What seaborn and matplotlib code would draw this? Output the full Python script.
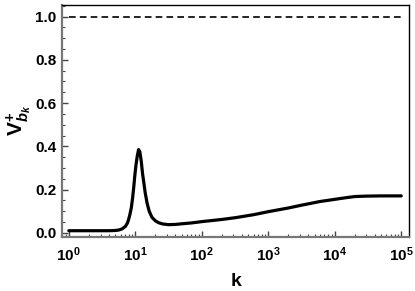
import matplotlib.pyplot as plt
import matplotlib.ticker as mticker
import numpy as np
import pandas as pd
import seaborn as sns

# values
k_vals = [1, 2, 3, 4, 5, 5.6, 6.3, 7.1, 7.6, 7.9, 8.3, 8.7, 9.1, 9.5, 9.8,
          10.2, 10.7, 11.2, 11.7, 12.3, 12.9, 13.2, 14.1, 15.1, 16.2, 17.8,
          20, 22.4, 26, 31.6, 40, 50, 70, 100, 200, 316, 600, 1000, 2000,
          3162, 6000, 10000, 15000, 20000, 30000, 50000, 100000]
v_vals = [0.010, 0.010, 0.010, 0.010, 0.011, 0.013, 0.018, 0.030, 0.045, 0.060,
          0.085, 0.115, 0.160, 0.215, 0.260, 0.310, 0.355, 0.385, 0.375, 0.330,
          0.270, 0.250, 0.185, 0.135, 0.100, 0.072, 0.056, 0.047, 0.041, 0.038,
          0.039, 0.042, 0.046, 0.052, 0.062, 0.070, 0.084, 0.098, 0.115,
          0.128, 0.145, 0.155, 0.163, 0.168, 0.170, 0.171, 0.171]
ref_level = 1.0

df = pd.DataFrame({"k": k_vals, "v": v_vals})

sns.set_theme(style="ticks")
plt.rcParams["font.family"] = ["Liberation Sans", "DejaVu Sans"]
plt.rcParams["font.weight"] = "bold"
plt.rcParams["text.color"] = "black"
plt.rcParams["axes.labelcolor"] = "black"
plt.rcParams["xtick.color"] = "black"
plt.rcParams["ytick.color"] = "black"
plt.rcParams["mathtext.fontset"] = "custom"
plt.rcParams["mathtext.rm"] = "Liberation Sans:bold"
plt.rcParams["mathtext.it"] = "Liberation Sans:bold:italic"
plt.rcParams["mathtext.bf"] = "Liberation Sans:bold"

fig = plt.figure(figsize=(4.15, 2.91), dpi=100)
ax = fig.add_axes([0.149, 0.186, 0.837, 0.797])

sns.lineplot(data=df, x="k", y="v", color="black", linewidth=2.3, ax=ax)
ax.plot([k_vals[0], k_vals[-1]], [ref_level, ref_level], color="black",
        linewidth=1.2, linestyle=(0, (4, 2.5)))

ax.set_xscale("log")
ax.set_xlim(10 ** -0.105, 10 ** 5.12)
ax.set_ylim(-0.0185, 1.054)

ax.xaxis.set_major_locator(mticker.LogLocator(base=10, numticks=10))
ax.xaxis.set_minor_locator(mticker.LogLocator(base=10, subs=np.arange(2, 10), numticks=10))
ax.xaxis.set_minor_formatter(mticker.NullFormatter())
ax.yaxis.set_major_locator(mticker.MultipleLocator(0.2))
ax.yaxis.set_minor_locator(mticker.MultipleLocator(0.05))
ax.yaxis.set_major_formatter(mticker.FormatStrFormatter("%.1f"))

ax.tick_params(which="both", direction="in", top=False, right=False,
               labelsize=11, labelcolor="black", color="#444444")
ax.tick_params(axis="x", which="major", pad=6)
ax.tick_params(axis="y", which="major", pad=4)
ax.tick_params(which="major", length=4, width=1)
ax.tick_params(which="minor", length=2, width=0.8)
for lab in ax.get_xticklabels() + ax.get_yticklabels():
    lab.set_fontweight("bold")

for side in ["left", "bottom"]:
    ax.spines[side].set_color("#777777")
    ax.spines[side].set_linewidth(1.6)
for side in ["top", "right"]:
    ax.spines[side].set_color("black")
    ax.spines[side].set_linewidth(1.0)

ax.set_xlabel("k", fontsize=14, fontweight="bold")
ax.xaxis.set_label_coords(0.5, -0.155)
ax.set_ylabel(r"$\mathrm{V}^{+}_{b_k}$", fontsize=15)
ax.yaxis.set_label_coords(-0.08, 0.5)

fig.savefig("out.png", dpi=100)
